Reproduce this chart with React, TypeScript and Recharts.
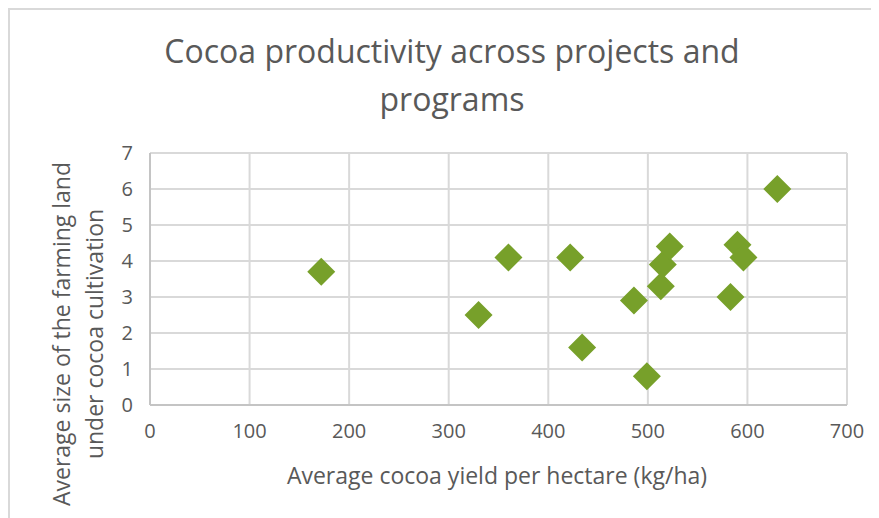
import { ScatterChart, Scatter, XAxis, YAxis, CartesianGrid, Label } from 'recharts';

// average cocoa yield (kg/ha) vs. average farm size under cocoa (ha)
const yieldKgHa = [172, 330, 360, 422, 434, 486, 499, 513, 515, 522, 583, 590, 596, 630];
const farmSizeHa = [3.7, 2.5, 4.1, 4.1, 1.6, 2.9, 0.8, 3.3, 3.9, 4.4, 3.0, 4.45, 4.1, 6.0];

const xTicks = [0, 100, 200, 300, 400, 500, 600, 700];
const yTicks = [0, 1, 2, 3, 4, 5, 6, 7];

const chartTitle = ['Cocoa productivity across projects and', 'programs'];
const xTitle = 'Average cocoa yield per hectare (kg/ha)';
const yTitle = ['Average size of the farming land', 'under cocoa cultivation'];

const points = yieldKgHa.map((x, i) => ({ x, y: farmSizeHa[i] }));

const FONT = '"Open Sans", "Noto Sans", sans-serif';
const TEXT = '#595959';
const GRID = '#d9d9d9';
const GREEN = '#77a02a';

const Diamond = (props: any) => {
  const { cx, cy } = props;
  const r = 14;
  return (
    <polygon
      points={`${cx},${cy - r} ${cx + r},${cy} ${cx},${cy + r} ${cx - r},${cy}`}
      fill={GREEN}
    />
  );
};

const XTick = (props: any) => (
  <text x={props.x} y={props.y + 25} textAnchor="middle" fill={TEXT} fontSize={20} fontFamily={FONT}>
    {props.payload.value}
  </text>
);

const YTick = (props: any) => (
  <text x={133} y={props.y + 7} textAnchor="end" fill={TEXT} fontSize={20} fontFamily={FONT}>
    {props.payload.value}
  </text>
);

export default function App() {
  return (
    <div
      style={{
        position: 'relative',
        width: 871,
        height: 510,
        borderTop: `2px solid ${GRID}`,
        borderLeft: `2px solid ${GRID}`,
        boxSizing: 'border-box',
        background: '#fff',
      }}
    >
      <div style={{ position: 'absolute', left: -10, top: -10 }}>
        <svg width={879} height={140} style={{ position: 'absolute', left: 0, top: 0 }}>
          <text x={452} y={63} textAnchor="middle" fill={TEXT} fontSize={32} fontFamily={FONT}>
            {chartTitle[0]}
          </text>
          <text x={452} y={111} textAnchor="middle" fill={TEXT} fontSize={32} fontFamily={FONT}>
            {chartTitle[1]}
          </text>
        </svg>
        <ScatterChart
          width={879}
          height={518}
          margin={{ top: 153, right: 32, bottom: 53, left: 0 }}
          style={{ position: 'absolute', left: 0, top: 0 }}
        >
          <CartesianGrid stroke={GRID} strokeWidth={2} horizontalValues={yTicks} verticalValues={xTicks} />
          <XAxis
            type="number"
            dataKey="x"
            domain={[0, 700]}
            ticks={xTicks}
            height={60}
            tickLine={false}
            axisLine={{ stroke: '#c4c4c4', strokeWidth: 2 }}
            tick={<XTick />}
            interval={0}
          >
            <Label
              content={() => (
                <text x={497} y={484} textAnchor="middle" fill={TEXT} fontSize={23} fontFamily={FONT}>
                  {xTitle}
                </text>
              )}
            />
          </XAxis>
          <YAxis
            type="number"
            dataKey="y"
            domain={[0, 7]}
            ticks={yTicks}
            width={150}
            tickLine={false}
            axisLine={{ stroke: '#c4c4c4', strokeWidth: 2 }}
            tick={<YTick />}
            interval={0}
          >
            <Label
              content={() => (
                <text transform="translate(0,334) rotate(-90)" textAnchor="middle" fill={TEXT} fontSize={23} fontFamily={FONT}>
                  <tspan x={0} y={70}>{yTitle[0]}</tspan>
                  <tspan x={0} y={103}>{yTitle[1]}</tspan>
                </text>
              )}
            />
          </YAxis>
          <Scatter data={points} shape={<Diamond />} isAnimationActive={false} />
        </ScatterChart>
      </div>
    </div>
  );
}
